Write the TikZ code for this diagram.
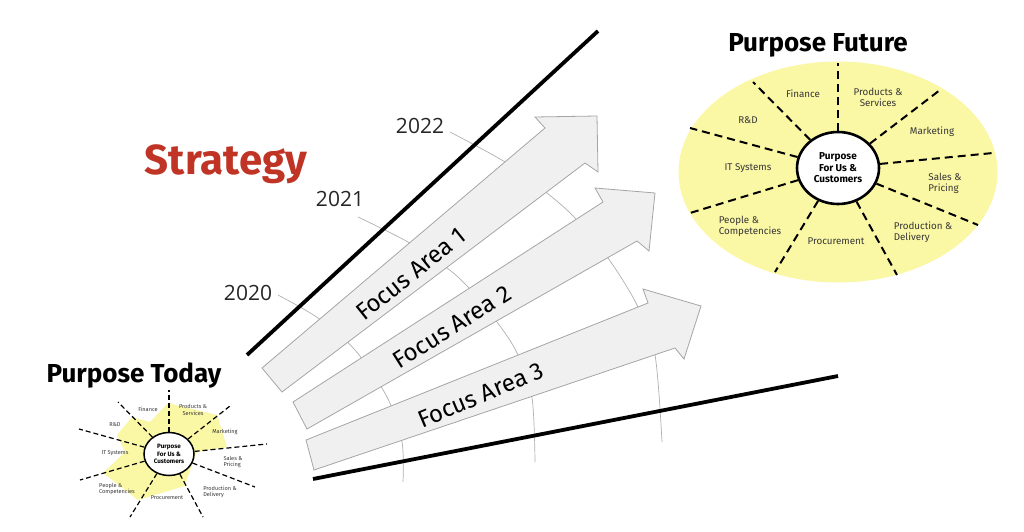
\documentclass[tikz,border=0pt]{standalone}
\usepackage{fontspec}
\usepackage{tikz}
\usetikzlibrary{shapes.geometric}
\newfontfamily\handfont{Fira Sans}
\newfontfamily\yearfont{Open Sans}
\definecolor{stratred}{RGB}{192,52,38}
\definecolor{padyellow}{RGB}{250,247,165}
\definecolor{arrowfill}{RGB}{240,240,240}
\definecolor{arrowline}{RGB}{165,165,165}
\definecolor{ringgray}{RGB}{175,175,175}
\definecolor{labelgray}{RGB}{55,55,55}

\begin{document}
\begin{tikzpicture}[x=1pt,y=-1pt,
  focus/.style={draw=arrowline,fill=arrowfill,line width=0.8pt,line join=miter},
  ring/.style={draw=ringgray,line width=0.7pt},
  edge/.style={line width=3.8pt},
  title/.style={font=\handfont\bfseries\fontsize{26}{28}\selectfont,anchor=base},
  year/.style={font=\yearfont\fontsize{21}{21}\selectfont,text=black!85,anchor=base},
  area/.style={font=\handfont\fontsize{24}{24}\selectfont,inner sep=0pt},
  bigspoke/.style={dash pattern=on 8pt off 5pt,line width=2pt},
  smallspoke/.style={dash pattern=on 5pt off 3pt,line width=1.2pt},
  biglabel/.style={font=\handfont\fontsize{9.8}{11.2}\selectfont,text=labelgray,align=left},
  smalllabel/.style={font=\handfont\fontsize{5.6}{6.4}\selectfont,text=labelgray,align=left}]
  \useasboundingbox (0,0) rectangle (1024,532);

  % year rings, partly hidden by the arrows
  \draw[ring] plot[smooth] coordinates {(278,295) (318,318) (355,350) (387,397) (402,442) (403,482)};
  \draw[ring] plot[smooth] coordinates {(358,217) (408,242) (447,268) (468,287) (497,322) (517,353) (532,398) (535,462)};
  \draw[ring] plot[smooth] coordinates {(450,132) (505,162) (547,193) (575,218) (608,258) (637,305) (655,355) (662,442)};
  \node[year] (y2020) at (248,300) {2020};
  \node[year] (y2021) at (340,206) {2021};
  \node[year] (y2022) at (420,133) {2022};

  % the two bounding lines
  \draw[edge] (247,355) -- (598,31);
  \draw[edge] (313,479) -- (838,376);

  % focus arrows
  \draw[focus] (262,368) -- (545,128) -- (535,117) -- (597,116) -- (598,172) -- (585,163) -- (282,392) -- cycle;
  \draw[focus] (293,402) -- (603,202) -- (595,188) -- (655,193) -- (649,251) -- (637,241) -- (307,429) -- cycle;
  \draw[focus] (306,440) -- (648,303) -- (643,289) -- (701,306) -- (684,359) -- (675,348) -- (314,470) -- cycle;
  \node[area,rotate=38.6] (fa1) at (411,274) {Focus Area 1};
  \node[area,rotate=32.3] (fa2) at (452,327) {Focus Area 2};
  \node[area,rotate=22.8] (fa3) at (481,395) {Focus Area 3};

  \node[title,text=stratred,font=\handfont\bfseries\fontsize{42}{44}\selectfont] (strat) at (226,174) {Strategy};

  % purpose future
  \node[title] (tfut) at (818,52) {Purpose Future};
  \node[ellipse,fill=padyellow,minimum width=319pt,minimum height=221pt] (fut) at (838,172) {};
  \node[ellipse,draw,fill=white,line width=2.6pt,minimum width=82pt,minimum height=72pt,inner sep=0pt,
    align=center,font=\handfont\bfseries\fontsize{10}{11.5}\selectfont] (fc) at (838,168) {Purpose\\For Us \&\\Customers};
  \foreach \px/\py in {838/63, 940/90, 993/153, 978/225, 897/275, 775/272, 690/213, 690/128, 753/82}
    \draw[bigspoke] (fc) -- (\px,\py);
  \node[biglabel] (ffin) at (803,94) {Finance};
  \node[biglabel,align=center] (fprod) at (878,97) {Products \&\\Services};
  \node[biglabel] (fmark) at (932,132) {Marketing};
  \node[biglabel] (fsale) at (945,183) {Sales \&\\Pricing};
  \node[biglabel] (fdel) at (923,232) {Production \&\\Delivery};
  \node[biglabel] (fproc) at (836,241) {Procurement};
  \node[biglabel] (fpeop) at (750,226) {People \&\\Competencies};
  \node[biglabel] (fit) at (748,168) {IT Systems};
  \node[biglabel] (frd) at (748,120) {R\&D};

  % purpose today
  \node[title] (ttod) at (134,382) {Purpose Today};
  \fill[padyellow] (168,403) -- (217,415) -- (227,447) -- (197,452) -- (190,470) -- (185,486)
    -- (138,500) -- (103,473) -- (125,452) -- (117,435) -- (132,417) -- (150,422) -- cycle;
  \node[ellipse,draw,fill=white,line width=1.5pt,minimum width=50pt,minimum height=43pt,inner sep=0pt,
    align=center,font=\handfont\bfseries\fontsize{6.3}{7.2}\selectfont] (tc) at (169,454) {Purpose\\For Us \&\\Customers};
  \foreach \px/\py in {169/390, 230/406, 267/444, 255/487, 203/517, 130/517, 80/480, 79/429, 118/402}
    \draw[smallspoke] (tc) -- (\px,\py);
  \node[smalllabel] (tfin) at (148,409) {Finance};
  \node[smalllabel,align=center] (tprod) at (193,410) {Products \&\\Services};
  \node[smalllabel] (tmark) at (225,432) {Marketing};
  \node[smalllabel] (tsale) at (233,462) {Sales \&\\Pricing};
  \node[smalllabel] (tdel) at (220,492) {Production \&\\Delivery};
  \node[smalllabel] (tproc) at (167,498) {Procurement};
  \node[smalllabel] (tpeop) at (117,489) {People \&\\Competencies};
  \node[smalllabel] (tit) at (115,453) {IT Systems};
  \node[smalllabel] (trd) at (115,425) {R\&D};
\end{tikzpicture}
\end{document}
